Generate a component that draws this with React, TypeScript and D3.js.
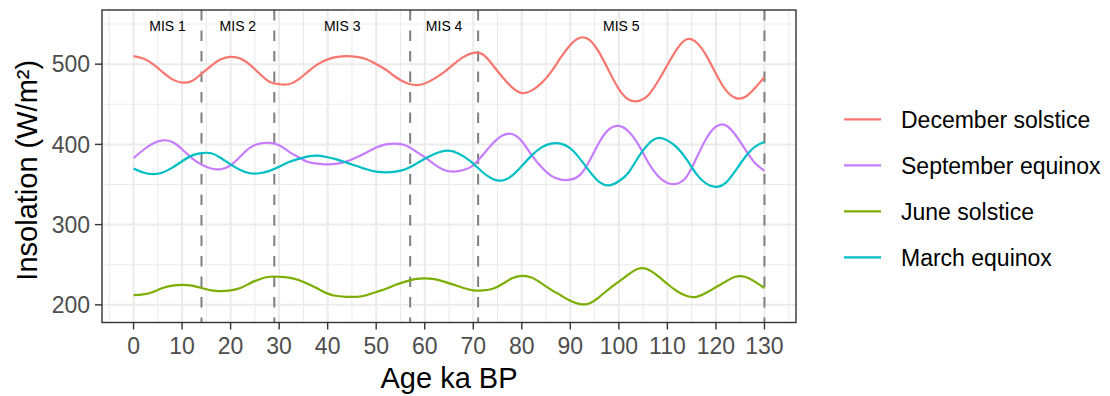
import { useMemo } from "react";
import * as d3 from "d3";

// ages in ka BP, every 2 ka
const ages = d3.range(0, 131, 2);

const decemberSolstice = [
	510, 507, 500, 490, 481, 477, 479, 488, 498, 506, 509, 507, 499, 488, 478, 475, 475, 481, 491, 500, 506, 509, 510,
	509, 506, 500, 493, 484, 477, 474, 476, 482, 490, 500, 509, 514, 512, 499, 484, 471, 464, 467, 476, 490, 508, 524,
	533, 530, 514, 491, 469, 456, 454, 461, 478, 499, 519, 531, 527, 511, 488, 468, 458, 459, 470, 484,
];

const septemberEquinox = [
	383, 393, 401, 405, 403, 394, 383, 375, 370, 369, 374, 385, 396, 401, 402, 399, 391, 384, 378, 376, 375, 376, 379,
	384, 390, 396, 400, 401, 399, 392, 384, 375, 368, 366, 368, 374, 387, 401, 411, 413, 404, 387, 372, 361, 356, 356,
	362, 380, 403, 419, 423, 416, 400, 378, 361, 352, 351, 360, 383, 407, 422, 424, 412, 394, 377, 367,
];

const juneSolstice = [
	212, 213, 216, 221, 224, 225, 224, 221, 218, 217, 218, 221, 227, 232, 235, 235, 234, 231, 226, 220, 214, 211, 210,
	210, 212, 216, 220, 225, 229, 232, 233, 232, 229, 225, 221, 218, 218, 220, 226, 233, 236, 234, 227, 219, 212, 205,
	201, 202, 210, 220, 229, 238, 245, 244, 236, 226, 217, 211, 210, 215, 222, 229, 235, 235, 229, 221,
];

const marchEquinox = [
	370, 365, 363, 365, 371, 379, 386, 389, 389, 383, 375, 368, 364, 364, 367, 372, 378, 382, 385, 386, 384, 381, 377,
	373, 369, 366, 365, 366, 369, 375, 382, 388, 392, 391, 385, 376, 365, 357, 355, 361, 373, 386, 396, 401, 401, 395,
	382, 366, 353, 349, 354, 365, 384, 400, 408, 405, 396, 381, 363, 351, 347, 352, 367, 384, 397, 403,
];

const seriesNames = ["December solstice", "September equinox", "June solstice", "March equinox"];
const seriesValues = [decemberSolstice, septemberEquinox, juneSolstice, marchEquinox];
const seriesColors = ["#F8766D", "#C77CFF", "#7CAE00", "#00BFC4"];

// marine isotope stage boundaries and labels
const misBounds = [0, 14, 29, 57, 71, 130];
const misLabels = ["MIS 1", "MIS 2", "MIS 3", "MIS 4", "MIS 5"];
const dashedAt = [14, 29, 57, 71, 130];

const xTicks = d3.range(0, 131, 10);
const yTicks = [200, 300, 400, 500];

export default function App() {
	const width = 1110;
	const height = 396;
	const panel = { left: 102, right: 796, top: 10, bottom: 322.5 };
	const font = "'Liberation Sans', Arial, Helvetica, sans-serif";

	const x = d3.scaleLinear().domain([-6.5, 136.5]).range([panel.left, panel.right]);
	const y = d3.scaleLinear().domain([178, 567.5]).range([panel.bottom, panel.top]);

	const line = d3
		.line<number>()
		.x((_, i) => x(ages[i]))
		.y((d) => y(d))
		.curve(d3.curveNatural);

	const xMinor = d3.range(-5, 136, 10);
	const yMinor = [250, 350, 450, 550];

	const paths = useMemo(() => seriesValues.map((v) => line(v) ?? ""), []);

	return (
		<svg
			width={width}
			height={height}
			style={{ position: "absolute", left: 0, top: 0, background: "white" }}
			fontFamily={font}
		>
			<rect x={panel.left} y={panel.top} width={panel.right - panel.left} height={panel.bottom - panel.top} fill="white" />

			{/* minor grid */}
			{xMinor.map((t) => (
				<line key={"xm" + t} x1={x(t)} x2={x(t)} y1={panel.top} y2={panel.bottom} stroke="#EBEBEB" strokeWidth={1.1} />
			))}
			{yMinor.map((t) => (
				<line key={"ym" + t} x1={panel.left} x2={panel.right} y1={y(t)} y2={y(t)} stroke="#EBEBEB" strokeWidth={1.1} />
			))}
			{/* major grid */}
			{xTicks.map((t) => (
				<line key={"xg" + t} x1={x(t)} x2={x(t)} y1={panel.top} y2={panel.bottom} stroke="#EBEBEB" strokeWidth={2} />
			))}
			{yTicks.map((t) => (
				<line key={"yg" + t} x1={panel.left} x2={panel.right} y1={y(t)} y2={y(t)} stroke="#EBEBEB" strokeWidth={2} />
			))}

			{/* stage boundaries */}
			{dashedAt.map((t) => (
				<line
					key={"v" + t}
					x1={x(t)}
					x2={x(t)}
					y1={panel.top}
					y2={panel.bottom}
					stroke="#7F7F7F"
					strokeWidth={2}
					strokeDasharray="10.5,10"
				/>
			))}

			{/* series */}
			{paths.map((d, i) => (
				<path key={seriesNames[i]} d={d} fill="none" stroke={seriesColors[i]} strokeWidth={2.2} />
			))}

			{/* MIS labels */}
			{misLabels.map((lab, i) => (
				<text
					key={lab}
					x={x((misBounds[i] + misBounds[i + 1]) / 2)}
					y={30.5}
					textAnchor="middle"
					fontSize={14}
					fill="black"
				>
					{lab}
				</text>
			))}

			<rect
				x={panel.left}
				y={panel.top}
				width={panel.right - panel.left}
				height={panel.bottom - panel.top}
				fill="none"
				stroke="#333333"
				strokeWidth={1.4}
			/>

			{/* x axis */}
			{xTicks.map((t) => (
				<g key={"xt" + t}>
					<line x1={x(t)} x2={x(t)} y1={panel.bottom} y2={panel.bottom + 7} stroke="#333333" strokeWidth={1.4} />
					<text x={x(t)} y={354} textAnchor="middle" fontSize={23} fill="#4D4D4D">
						{t}
					</text>
				</g>
			))}
			{/* y axis */}
			{yTicks.map((t) => (
				<g key={"yt" + t}>
					<line x1={panel.left - 7} x2={panel.left} y1={y(t)} y2={y(t)} stroke="#333333" strokeWidth={1.4} />
					<text x={90} y={y(t)} dy="0.36em" textAnchor="end" fontSize={23} fill="#4D4D4D">
						{t}
					</text>
				</g>
			))}

			<text x={(panel.left + panel.right) / 2} y={388} textAnchor="middle" fontSize={29} fill="black">
				Age ka BP
			</text>
			<text
				transform={`translate(37, ${(panel.top + panel.bottom) / 2 + 4}) rotate(-90)`}
				textAnchor="middle"
				fontSize={29}
				fill="black"
			>
				Insolation (W/m²)
			</text>

			{/* legend */}
			{seriesNames.map((name, i) => {
				const ly = 119.3 + i * 46;
				return (
					<g key={"lg" + name}>
						<line x1={844} x2={881} y1={ly} y2={ly} stroke={seriesColors[i]} strokeWidth={2.2} />
						<text x={901} y={ly} dy="0.36em" fontSize={23} fill="black">
							{name}
						</text>
					</g>
				);
			})}
		</svg>
	);
}
